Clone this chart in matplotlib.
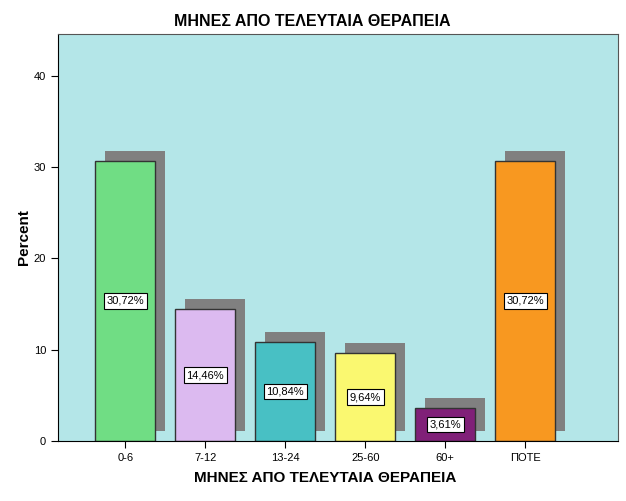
import matplotlib
matplotlib.use("Agg")
import matplotlib.pyplot as plt
from matplotlib.transforms import ScaledTranslation

plt.rcParams['font.family'] = ['Liberation Sans', 'DejaVu Sans']

categories = ["0-6", "7-12", "13-24", "25-60", "60+", "ΠΟΤΕ"]
percents = [30.72, 14.46, 10.84, 9.64, 3.61, 30.72]
labels = ["30,72%", "14,46%", "10,84%", "9,64%", "3,61%", "30,72%"]
colors = ["#70dd84", "#dcbaf0", "#48c0c4", "#faf870", "#802078", "#f89820"]

fig = plt.figure(figsize=(6.26, 5.01), dpi=100)
ax = fig.add_axes([58 / 626, 60 / 501, 560 / 626, 407 / 501])
ax.set_facecolor("#b4e6e8")

x = list(range(len(categories)))
width = 0.75

# drop shadows: same bars shifted 10px right and 10px up
shadow = ax.transData + ScaledTranslation(10 / 100, 10 / 100, fig.dpi_scale_trans)
ax.bar(x, percents, width=width, color="#808080", transform=shadow, zorder=1)
ax.bar(x, percents, width=width, color=colors, edgecolor="#333333", linewidth=1, zorder=2)

for xi, p, lab in zip(x, percents, labels):
    ax.text(xi, p / 2, lab, ha="center", va="center", fontsize=8, zorder=3,
            bbox=dict(facecolor="white", edgecolor="black", linewidth=0.8, pad=2))

ax.set_xlim(-0.84, 6.16)
ax.set_ylim(0, 44.6)
ax.set_xticks(x)
ax.set_xticklabels(categories, fontsize=8)
ax.set_yticks([0, 10, 20, 30, 40])
ax.tick_params(axis="y", labelsize=8, length=5)
ax.tick_params(axis="x", length=5)
for side in ["top", "right"]:
    ax.spines[side].set_color("#555555")

ax.set_ylabel("Percent", fontsize=11, fontweight="bold", labelpad=2)
fig.text(325 / 626, 1 - 478 / 501, "ΜΗΝΕΣ ΑΠΟ ΤΕΛΕΥΤΑΙΑ ΘΕΡΑΠΕΙΑ", ha="center", va="center",
         fontsize=11, fontweight="bold")
fig.text(312 / 626, 1 - 21 / 501, "ΜΗΝΕΣ ΑΠΟ ΤΕΛΕΥΤΑΙΑ ΘΕΡΑΠΕΙΑ", ha="center", va="center",
         fontsize=11.5, fontweight="bold")

fig.savefig("out.png", dpi=100)
